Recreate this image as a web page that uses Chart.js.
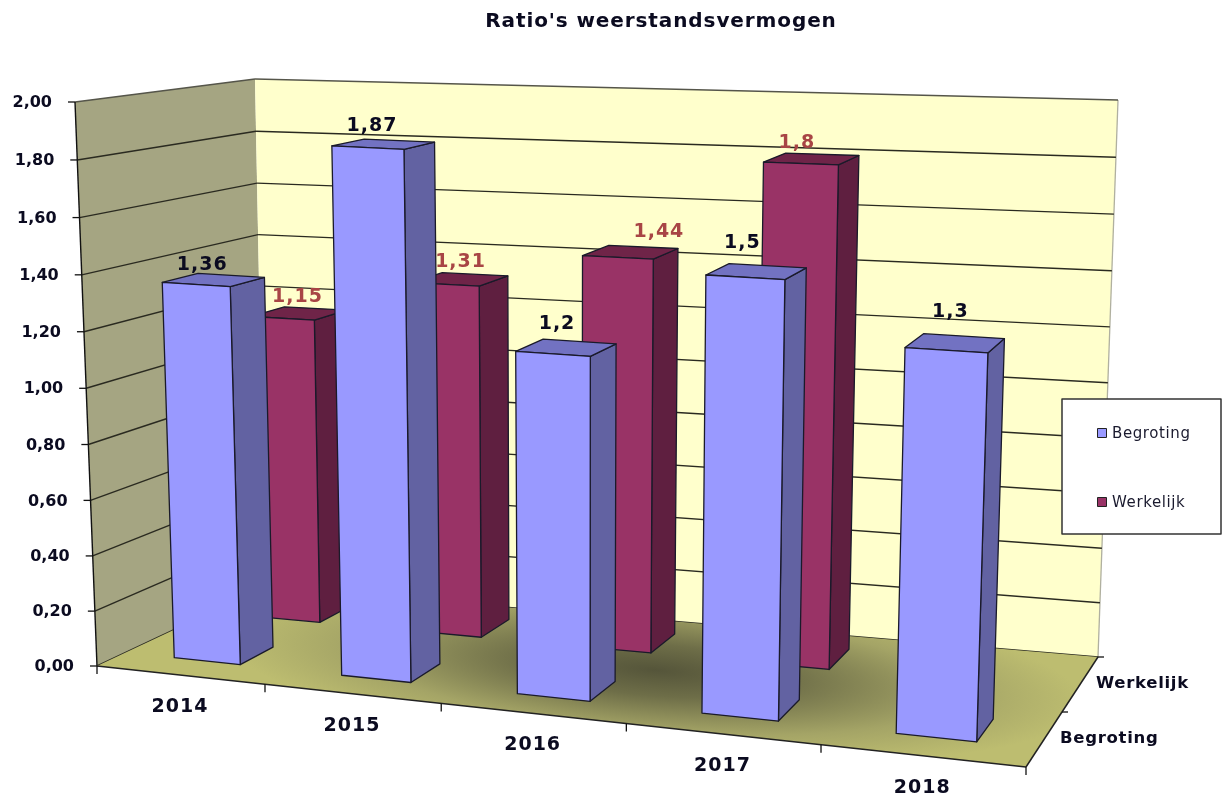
<!DOCTYPE html>
<html>
<head>
<meta charset="utf-8">
<title>Ratio's weerstandsvermogen</title>
<script src="https://cdn.jsdelivr.net/npm/chart.js@4/dist/chart.umd.min.js"></script>
<style>
  html, body { margin: 0; padding: 0; background: #fff; }
  /* the reference is a slightly soft screenshot */
  canvas { display: block; filter: blur(0.45px); }
</style>
</head>
<body>
<canvas id="chart" width="1222" height="796"></canvas>
<script>
const YEARS      = ['2014', '2015', '2016', '2017', '2018'];
const BEGROTING  = [1.36, 1.87, 1.2, 1.5, 1.3];
const WERKELIJK  = [1.15, 1.31, 1.44, 1.8, null];
const Y_MAX      = 2;
const Y_STEP     = 0.2;

// Screen corners of the 3D box
const FRONT_BL = [97, 666],   FRONT_BR = [1026, 767];
const FRONT_TL = [75, 102],   FRONT_TR = [1046, 148];
const BACK_BL  = [265, 587],  BACK_BR  = [1098, 657];
const BACK_TL  = [255, 79],   BACK_TR  = [1118, 100];

// Perspective foreshortening along the category and value axes
const U_PERSP = 0.883;
const V_PERSP = 0.97;

const FONT = "'DejaVu Sans', Verdana, sans-serif";
const TEXT = '#0b0b20';
const EDGE = '#1a1a2a';

const SERIES_STYLE = [
  { front: '#9999FF', side: '#6262A2', top: '#7272C2', text: TEXT,      depth: [0.17, 0.38] },
  { front: '#993366', side: '#5F1F40', top: '#6F2448', text: '#A84545', depth: [0.68, 0.88] },
];

// Manual label shifts [dx, dy], the original has some labels dragged aside
const LABEL_SHIFT = [
  [[6, 1], [4, -4], [4, -6], [-3, -12], [4, -13]],
  [[15, -1], [15, -2], [41, -4], [-4, -1], [0, 0]],
];

const lerp  = (a, b, t) => [a[0] + (b[0] - a[0]) * t, a[1] + (b[1] - a[1]) * t];
const persp = (x, a) => a * x / (1 + (a - 1) * x);
const comma = (v, d) => (d === undefined ? String(v) : v.toFixed(d)).replace('.', ',');

// u along categories, v up the value axis, w into the depth (all 0..1)
function project(u, v, w) {
  const t = persp(u, U_PERSP);
  const s = persp(v, V_PERSP);
  const bottom = lerp(lerp(FRONT_BL, FRONT_BR, t), lerp(BACK_BL, BACK_BR, t), w);
  const top    = lerp(lerp(FRONT_TL, FRONT_TR, t), lerp(BACK_TL, BACK_TR, t), w);
  return lerp(bottom, top, s);
}

function tracePath(ctx, pts) {
  ctx.beginPath();
  pts.forEach((p, i) => (i ? ctx.lineTo(p[0], p[1]) : ctx.moveTo(p[0], p[1])));
  ctx.closePath();
}

function face(ctx, pts, fill, stroke) {
  tracePath(ctx, pts);
  if (fill) { ctx.fillStyle = fill; ctx.fill(); }
  if (stroke) { ctx.strokeStyle = stroke; ctx.lineWidth = 1.3; ctx.lineJoin = 'round'; ctx.stroke(); }
}

function line(ctx, a, b, color, width) {
  ctx.beginPath();
  ctx.moveTo(a[0], a[1]);
  ctx.lineTo(b[0], b[1]);
  ctx.strokeStyle = color;
  ctx.lineWidth = width || 1;
  ctx.stroke();
}

function text(ctx, str, x, y, font, color, align, spacing) {
  ctx.font = font;
  ctx.fillStyle = color;
  ctx.textAlign = align || 'center';
  ctx.textBaseline = 'middle';
  ctx.letterSpacing = (spacing || 0) + 'px';
  ctx.fillText(str, x, y);
  ctx.letterSpacing = '0px';
}

function drawWalls(chart, ctx) {
  const yScale = chart.scales.y;
  const toV = (val) => (yScale.bottom - yScale.getPixelForValue(val)) / (yScale.bottom - yScale.top);

  face(ctx, [FRONT_BL, FRONT_TL, BACK_TL, BACK_BL], '#A5A582');
  face(ctx, [BACK_BL, BACK_TL, BACK_TR, BACK_BR], '#FFFFCC');
  line(ctx, BACK_TR, BACK_BR, '#b0b0a0', 1.3);

  yScale.ticks.forEach((tick) => {
    const v = toV(tick.value);
    const a = project(0, v, 0), b = project(0, v, 1), c = project(1, v, 1);
    const color = tick.value === Y_MAX ? '#55554a' : '#2a2a20';
    line(ctx, a, b, color, 1.4);
    line(ctx, b, c, color, 1.4);
    line(ctx, [a[0] - 7, a[1]], a, '#111', 1.3);
    text(ctx, comma(tick.value, 2), a[0] - 23, a[1] + 1, `bold 16px ${FONT}`, TEXT, 'right');
  });
  line(ctx, FRONT_BL, FRONT_TL, '#111', 1.4);
}

function drawFloor(chart, ctx) {
  const xScale = chart.scales.x;
  ctx.save();
  tracePath(ctx, [FRONT_BL, FRONT_BR, BACK_BR, BACK_BL]);
  ctx.translate(655, 670);
  ctx.rotate(0.08);
  ctx.scale(1, 0.2);
  const grad = ctx.createRadialGradient(0, 0, 0, 0, 0, 430);
  grad.addColorStop(0, '#55553A');
  grad.addColorStop(0.3, '#6E6E48');
  grad.addColorStop(0.7, '#A4A466');
  grad.addColorStop(1, '#BDBD70');
  ctx.fillStyle = grad;
  ctx.fill();
  ctx.restore();

  line(ctx, FRONT_BL, FRONT_BR, '#222', 1.5);
  line(ctx, FRONT_BR, BACK_BR, '#222', 1.5);

  // category ticks sit on the band edges, labels in the middle of the band
  const band = xScale.width / YEARS.length;
  const toU = (px) => (px - xScale.left) / xScale.width;
  for (let i = 0; i <= YEARS.length; i++) {
    const p = project(toU(xScale.left + band * i), 0, 0);
    line(ctx, p, [p[0], p[1] + 8], '#111', 1.3);
  }
  YEARS.forEach((year, i) => {
    const p = project(toU(xScale.getPixelForValue(i)), 0, 0);
    text(ctx, year, p[0], p[1] + 32, `bold 19px ${FONT}`, TEXT, 'center', 1);
  });

  // depth axis
  [0.5, 1].forEach((w) => {
    const p = project(1, 0, w);
    line(ctx, p, [p[0] + 6, p[1]], '#111', 1.3);
  });
  chart.data.datasets.forEach((ds, i) => {
    const p = project(1, 0, (i + 0.5) / 2);
    text(ctx, ds.label, p[0] + 16, p[1] - 1, `bold 16.5px ${FONT}`, TEXT, 'left', 0.7);
  });
}

function drawBars(chart, ctx) {
  const area = chart.chartArea;
  const toU = (px) => (px - area.left) / area.width;
  const toV = (px) => (area.bottom - px) / area.height;
  const labels = [];

  // back row first so the front row covers it
  [1, 0].forEach((dsIndex) => {
    const style = SERIES_STYLE[dsIndex];
    const [w0, w1] = style.depth;
    chart.getDatasetMeta(dsIndex).data.forEach((bar, i) => {
      const value = chart.data.datasets[dsIndex].data[i];
      if (value === null) return;
      const u0 = toU(bar.x - bar.width / 2), u1 = toU(bar.x + bar.width / 2);
      const v0 = toV(bar.base), v1 = toV(bar.y);

      const fbl = project(u0, v0, w0), fbr = project(u1, v0, w0);
      const ftl = project(u0, v1, w0), ftr = project(u1, v1, w0);
      const bbr = project(u1, v0, w1), btr = project(u1, v1, w1), btl = project(u0, v1, w1);

      face(ctx, [fbr, ftr, btr, bbr], style.side, EDGE);
      face(ctx, [ftl, ftr, btr, btl], style.top, EDGE);
      face(ctx, [fbl, ftl, ftr, fbr], style.front, EDGE);

      const shift = LABEL_SHIFT[dsIndex][i];
      labels.push({
        str: comma(value),
        x: (ftl[0] + ftr[0]) / 2 + shift[0],
        y: Math.min(btl[1], btr[1]) - 9 + shift[1],
        color: style.text,
      });
    });
  });

  labels.forEach((l) => text(ctx, l.str, l.x, l.y, `bold 19px ${FONT}`, l.color, 'center', 1));
}

function drawLegend(chart, ctx) {
  ctx.fillStyle = '#fff';
  ctx.fillRect(1062, 399, 159, 135);
  ctx.strokeStyle = '#333';
  ctx.lineWidth = 1.5;
  ctx.strokeRect(1062, 399, 159, 135);
  const rowY = [433, 502];
  chart.data.datasets.forEach((ds, i) => {
    ctx.fillStyle = ds.backgroundColor;
    ctx.fillRect(1097.5, rowY[i] - 4.5, 9, 9);
    ctx.strokeStyle = '#222';
    ctx.lineWidth = 1;
    ctx.strokeRect(1097.5, rowY[i] - 4.5, 9, 9);
    text(ctx, ds.label, 1112, rowY[i] + 1, `15px ${FONT}`, '#1a1a2e', 'left', 0.6);
  });
}

const box3d = {
  id: 'box3d',
  beforeDraw(chart) {
    chart.ctx.letterSpacing = '0.9px'; // picked up by the title
  },
  beforeDatasetsDraw(chart) {
    const ctx = chart.ctx;
    ctx.save();
    ctx.letterSpacing = '0px';
    drawWalls(chart, ctx);
    drawFloor(chart, ctx);
    drawBars(chart, ctx);
    drawLegend(chart, ctx);
    ctx.restore();
    return false; // flat bars are only used for their geometry
  },
};

new Chart(document.getElementById('chart'), {
  type: 'bar',
  plugins: [box3d],
  data: {
    labels: YEARS,
    datasets: [
      { label: 'Begroting', data: BEGROTING, backgroundColor: SERIES_STYLE[0].front },
      { label: 'Werkelijk', data: WERKELIJK, backgroundColor: SERIES_STYLE[1].front },
    ],
  },
  options: {
    responsive: false,
    animation: false,
    layout: { padding: { left: 100 } },
    datasets: { bar: { grouped: false, barPercentage: 0.4, categoryPercentage: 1 } },
    plugins: {
      legend: { display: false },
      tooltip: { enabled: false },
      title: {
        display: true,
        text: "Ratio's weerstandsvermogen",
        color: TEXT,
        font: { family: FONT, size: 20, weight: 'bold' },
        padding: { top: 10, bottom: 10 },
      },
    },
    scales: {
      x: { display: false, offset: true },
      y: { display: false, min: 0, max: Y_MAX, ticks: { stepSize: Y_STEP } },
    },
  },
});
</script>
</body>
</html>
